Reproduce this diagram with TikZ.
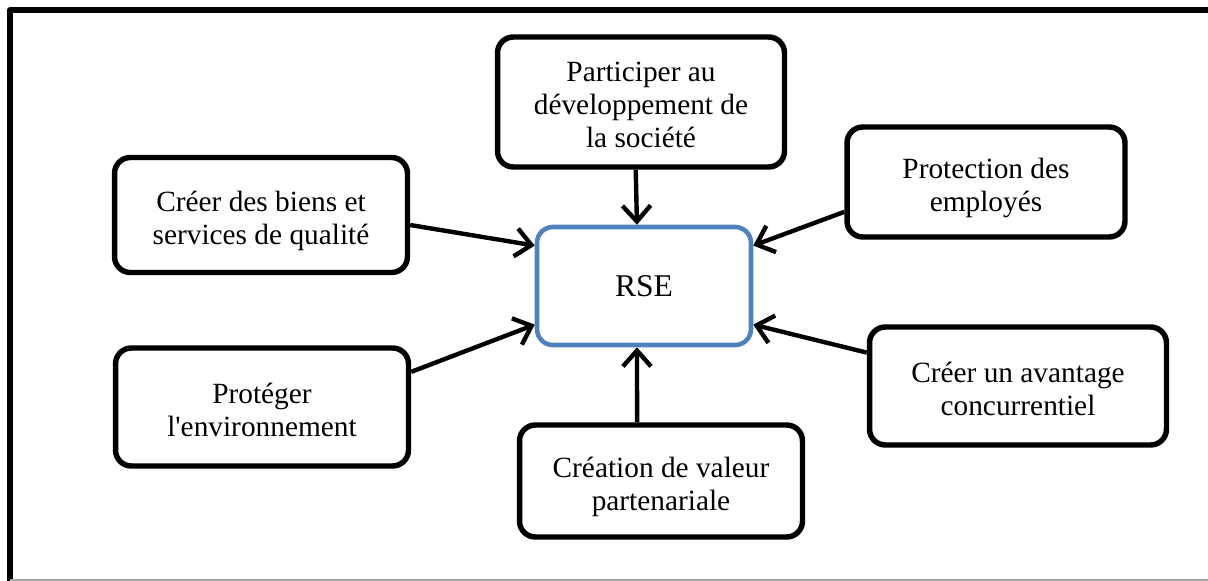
\documentclass[tikz,border=0pt]{standalone}
\usepackage{fontspec}
\setmainfont{Liberation Serif}
\usetikzlibrary{arrows.meta}
\definecolor{rseblue}{RGB}{79,129,189}
\newcommand{\lignes}[1]{\raisebox{-3.5pt}[\height][\depth]{\begin{tabular}{@{}c@{}}#1\end{tabular}}}
\begin{document}
\begin{tikzpicture}[x=0.02cm,y=-0.02cm,>={Straight Barb[length=9pt,width=16pt]},line join=round,
		boite/.style={draw,line width=3.1pt,rounded corners=9pt,align=center,inner sep=2pt,font=\fontsize{16.7}{18.8}\selectfont},
		fleche/.style={->,line width=2.5pt}]
	\useasboundingbox (0,0) rectangle (1208,581);
	\draw[line width=3.4pt] (10,581)--(10,10)--(1208,10);
	\draw[black!35,line width=1pt] (10,580)--(1208,580);
	\node[boite,draw=rseblue,line width=2.6pt,minimum width=4.28cm,minimum height=2.36cm,font=\fontsize{18}{20}\selectfont] (rse) at (644,286) {RSE};
	\node[boite,minimum width=5.74cm,minimum height=2.6cm] (part) at (641,102) {\lignes{Participer au\\développement de\\la société}};
	\node[boite,minimum width=5.86cm,minimum height=2.3cm] (biens) at (261,215) {\lignes{Créer des biens et\\services de qualité}};
	\node[boite,minimum width=5.56cm,minimum height=2.2cm] (employes) at (986,182) {\lignes{Protection des\\employés}};
	\node[boite,minimum width=5.86cm,minimum height=2.36cm] (envir) at (262,407) {\lignes{Protéger\\l\textquotesingle environnement}};
	\node[boite,minimum width=5.66cm,minimum height=2.24cm] (valeur) at (661,481) {\lignes{Création de valeur\\partenariale}};
	\node[boite,minimum width=5.94cm,minimum height=2.36cm] (avantage) at (1018,386) {\lignes{Créer un avantage\\concurrentiel}};
	\draw[fleche] ([xshift=-3pt]part.south)--([xshift=-4pt]rse.north);
	\draw[fleche] ([yshift=-5.7pt]biens.east)--([yshift=23pt]rse.west);
	\draw[fleche] ([yshift=20pt]envir.east)--([yshift=-22pt]rse.west);
	\draw[fleche] ([yshift=-17pt]employes.west)--([yshift=23pt]rse.east);
	\draw[fleche] ([yshift=19pt]avantage.west)--([yshift=-22pt]rse.east);
	\draw[fleche] ([xshift=-13.6pt]valeur.north)--([xshift=-4pt]rse.south);
\end{tikzpicture}
\end{document}
